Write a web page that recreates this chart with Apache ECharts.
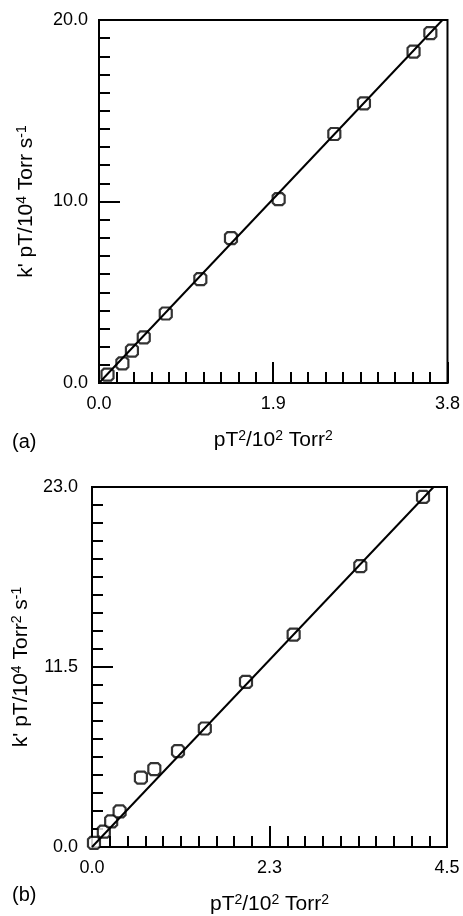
<!DOCTYPE html>
<html>
<head>
<meta charset="utf-8">
<script src="https://cdn.jsdelivr.net/npm/echarts@6/dist/echarts.min.js"></script>
<style>
html,body{margin:0;padding:0;background:#fff;}
#chart{width:463px;height:916px;}
</style>
</head>
<body>
<div id="chart"></div>
<script>
// Panel (a)
var xA = [0.093, 0.255, 0.359, 0.488, 0.728, 1.105, 1.439, 1.959, 2.566, 2.889, 3.430, 3.613];
var yA = [0.46, 1.08, 1.78, 2.51, 3.83, 5.72, 7.98, 10.13, 13.72, 15.41, 18.26, 19.28];
var fitAx = [0, 3.745];
var fitAy = [0, 20];
var xTicksA = ['0.0', '1.9', '3.8'];
var yTicksA = ['0.0', '10.0', '20.0'];
// Panel (b)
var xB = [0.025, 0.15, 0.243, 0.35, 0.62, 0.79, 1.09, 1.43, 1.952, 2.556, 3.401, 4.196];
var yB = [0.26, 0.98, 1.64, 2.27, 4.43, 4.98, 6.13, 7.57, 10.55, 13.57, 17.94, 22.37];
var fitBx = [0, 4.33];
var fitBy = [0, 23];
var xTicksB = ['0.0', '2.3', '4.5'];
var yTicksB = ['0.0', '11.5', '23.0'];

var FONT = 'Liberation Sans, Arial, Helvetica, sans-serif';
var chart = echarts.init(document.getElementById('chart'), null, {renderer: 'canvas'});

function pairs(xs, ys) { return xs.map(function (x, i) { return [x, ys[i]]; }); }

var marker = 'path://M2,0 L8,0 L10,2 L10,8 L8,10 L2,10 L0,8 L0,2 Z';
var supRich = {sup: {fontSize: 14, verticalAlign: 'top', lineHeight: 22, fontFamily: FONT, color: '#000'}};

function xAxisCfg(idx, max, labels, name) {
  var interval = max / 2;
  return {
    type: 'value', gridIndex: idx, min: 0, max: max, interval: interval,
    name: name, nameLocation: 'middle', nameGap: 46,
    nameTextStyle: {fontSize: 21, color: '#000', fontFamily: FONT, lineHeight: 22, rich: supRich},
    axisLine: {show: true, lineStyle: {color: '#000', width: 2}},
    axisTick: {show: true, inside: true, length: 21, lineStyle: {color: '#000', width: 2}},
    minorTick: {show: true, splitNumber: 10, length: 11, lineStyle: {color: '#000', width: 2}},
    splitLine: {show: false}, minorSplitLine: {show: false},
    axisLabel: {show: true, margin: 12, fontSize: 18, color: '#000', fontFamily: FONT,
      showMinLabel: true, showMaxLabel: true,
      formatter: function (v) { return labels[Math.round(v / interval)]; }}
  };
}
function yAxisCfg(idx, max, labels, name, margin, gap) {
  var interval = max / 2;
  return {
    type: 'value', gridIndex: idx, min: 0, max: max, interval: interval,
    name: name, nameLocation: 'middle', nameGap: gap, nameRotate: 90,
    nameTextStyle: {fontSize: 21, color: '#000', fontFamily: FONT, lineHeight: 22, rich: supRich},
    axisLine: {show: true, lineStyle: {color: '#000', width: 2}},
    axisTick: {show: true, inside: true, length: 21, lineStyle: {color: '#000', width: 2}},
    minorTick: {show: true, splitNumber: 10, length: 11, lineStyle: {color: '#000', width: 2}},
    splitLine: {show: false}, minorSplitLine: {show: false},
    axisLabel: {show: true, margin: margin, fontSize: 18, color: '#000', fontFamily: FONT,
      showMinLabel: true, showMaxLabel: true,
      formatter: function (v) { return labels[Math.round(v / interval)]; }}
  };
}

var option = {
  backgroundColor: '#fff',
  animation: false,
  grid: [
    {left: 99, top: 20, width: 353, height: 363, show: true, borderColor: '#000', borderWidth: 2, backgroundColor: 'transparent'},
    {left: 92, top: 487, width: 355, height: 363, show: true, borderColor: '#000', borderWidth: 2, backgroundColor: 'transparent'}
  ],
  xAxis: [
    xAxisCfg(0, 3.8, xTicksA, 'pT{sup|2}/10{sup|2} Torr{sup|2}'),
    xAxisCfg(1, 4.5, xTicksB, 'pT{sup|2}/10{sup|2} Torr{sup|2}')
  ],
  yAxis: [
    yAxisCfg(0, 20, yTicksA, "k' pT/10{sup|4} Torr s{sup|-1}", 11, 62),
    yAxisCfg(1, 23, yTicksB, "k' pT/10{sup|4} Torr{sup|2} s{sup|-1}", 14, 55)
  ],
  graphic: [
    {type: 'text', left: 12, top: 432, style: {text: '(a)', font: '20px ' + FONT, fill: '#000'}},
    {type: 'text', left: 12, top: 885, style: {text: '(b)', font: '20px ' + FONT, fill: '#000'}}
  ],
  series: [
    {type: 'scatter', xAxisIndex: 0, yAxisIndex: 0, data: pairs(xA, yA), symbol: marker, symbolSize: 12,
      itemStyle: {color: '#fff', borderColor: '#000', borderWidth: 2.2}, z: 2},
    {type: 'line', xAxisIndex: 0, yAxisIndex: 0, data: pairs(fitAx, fitAy), showSymbol: false, symbol: 'none',
      lineStyle: {color: '#000', width: 2}, z: 3},
    {type: 'scatter', xAxisIndex: 1, yAxisIndex: 1, data: pairs(xB, yB), symbol: marker, symbolSize: 12,
      itemStyle: {color: '#fff', borderColor: '#000', borderWidth: 2.2}, z: 2},
    {type: 'line', xAxisIndex: 1, yAxisIndex: 1, data: pairs(fitBx, fitBy), showSymbol: false, symbol: 'none',
      lineStyle: {color: '#000', width: 2}, z: 3}
  ]
};
chart.setOption(option);
</script>
</body>
</html>
